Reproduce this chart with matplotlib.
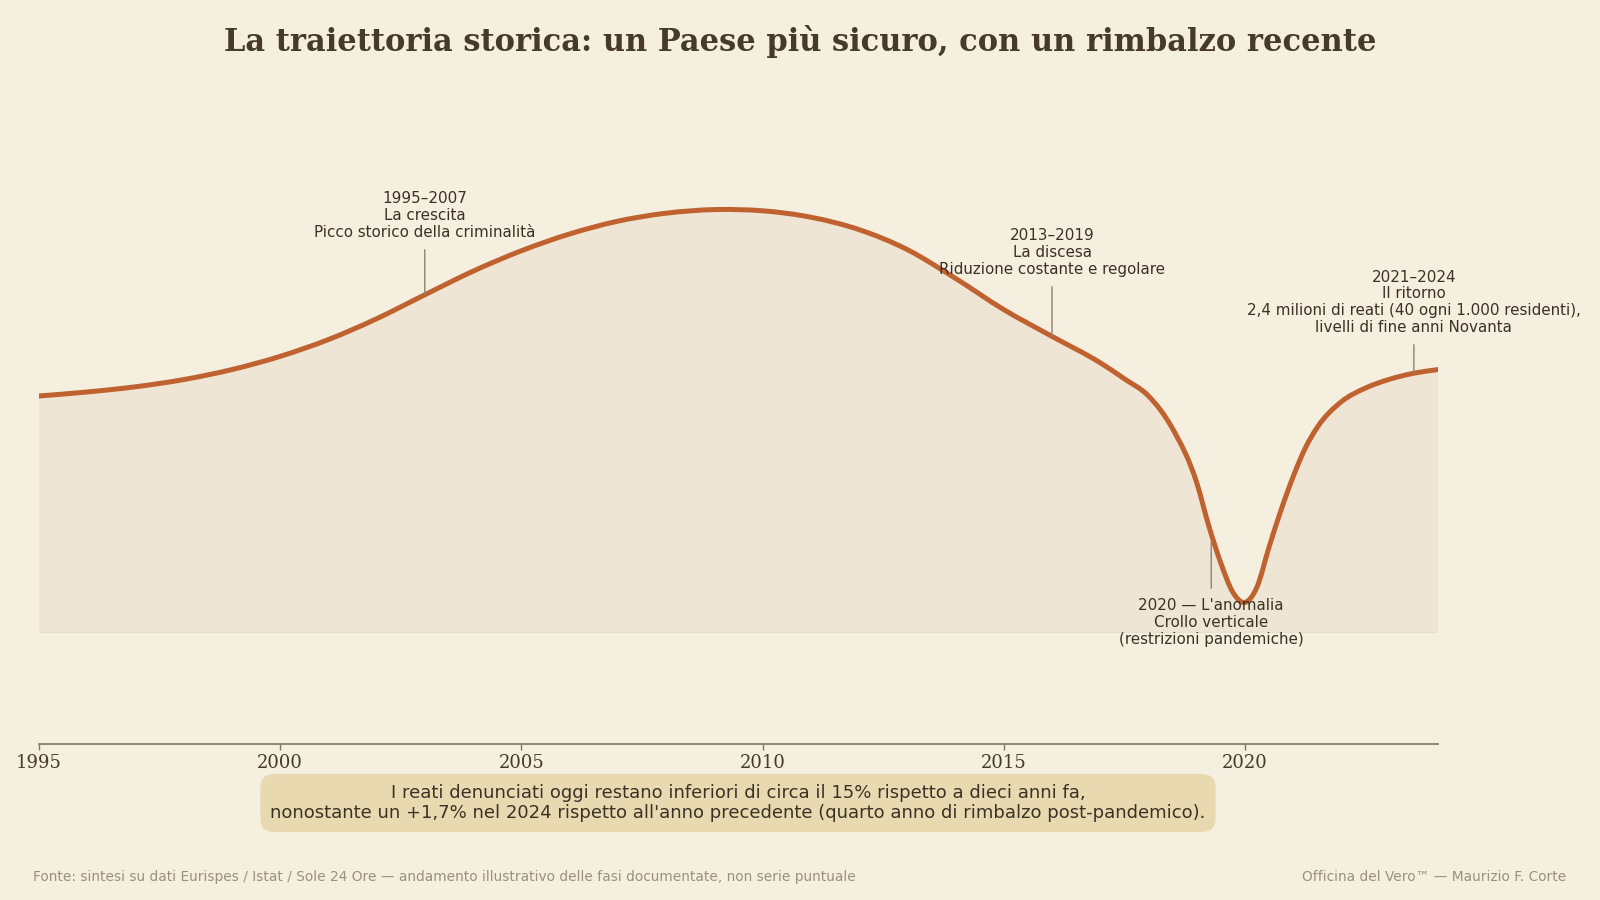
import matplotlib
matplotlib.use("Agg")
import matplotlib.pyplot as plt
import numpy as np
from matplotlib.path import Path
from matplotlib.patches import PathPatch

# ---- data (illustrative index) ----
years = [1995, 1996, 1997, 1998, 1999, 2000, 2001, 2002, 2003, 2004,
         2005, 2006, 2007, 2008, 2009, 2010, 2011, 2012, 2013, 2014,
         2015, 2016, 2017, 2017.5, 2018, 2018.5, 2019, 2019.25, 2019.5,
         2019.75, 2020, 2020.25, 2020.5, 2020.75, 2021, 2021.25, 2021.5,
         2022, 2022.5, 2023, 2023.5, 2024]
index_values = [59.0, 60.0, 61.3, 63.1, 65.6, 68.9, 73.1, 78.3, 84.3, 90.2,
                95.3, 99.5, 102.7, 104.7, 105.6, 105.3, 103.7, 100.6, 95.6, 88.4,
                80.6, 73.9, 67.3, 63.3, 59.0, 50.8, 37.3, 26.5, 17.2,
                9.9, 7.4, 11.3, 21.3, 30.6, 38.9, 46.0, 51.2,
                57.6, 61.0, 63.2, 64.7, 65.6]

tick_years = [1995, 2000, 2005, 2010, 2015, 2020]

ann_x = [2003, 2016, 2023.5, 2019.3]
ann_labels = [
    "1995\u20132007\nLa crescita\nPicco storico della criminalit\u00e0",
    "2013\u20132019\nLa discesa\nRiduzione costante e regolare",
    "2021\u20132024\nIl ritorno\n2,4 milioni di reati (40 ogni 1.000 residenti),\nlivelli di fine anni Novanta",
    "2020 \u2014 L'anomalia\nCrollo verticale\n(restrizioni pandemiche)",
]

title = "La traiettoria storica: un Paese pi\u00f9 sicuro, con un rimbalzo recente"
note = ("I reati denunciati oggi restano inferiori di circa il 15% rispetto a dieci anni fa,\n"
        "nonostante un +1,7% nel 2024 rispetto all'anno precedente (quarto anno di rimbalzo post-pandemico).")
source = "Fonte: sintesi su dati Eurispes / Istat / Sole 24 Ore \u2014 andamento illustrativo delle fasi documentate, non serie puntuale"
credit = "Officina del Vero\u2122 \u2014 Maurizio F. Corte"

# ---- style ----
BG = "#f5efe0"
FILL = "#efe5d4"
LINE = "#c0622f"
DARK = "#463a2c"
TXT = "#3b3226"
GREY = "#9a9080"


def smooth_path_vertices(xs, ys):
    """Cubic Bezier (Hermite) segments passing through every data point."""
    xs = np.asarray(xs, float)
    ys = np.asarray(ys, float)
    h = np.diff(xs)
    d = np.diff(ys) / h
    m = np.empty_like(ys)
    m[0], m[-1] = d[0], d[-1]
    for i in range(1, len(xs) - 1):
        m[i] = (d[i - 1] * h[i] + d[i] * h[i - 1]) / (h[i - 1] + h[i])
    verts = [(xs[0], ys[0])]
    codes = [Path.MOVETO]
    for i in range(len(h)):
        verts += [(xs[i] + h[i] / 3, ys[i] + m[i] * h[i] / 3),
                  (xs[i + 1] - h[i] / 3, ys[i + 1] - m[i + 1] * h[i] / 3),
                  (xs[i + 1], ys[i + 1])]
        codes += [Path.CURVE4] * 3
    return verts, codes


fig = plt.figure(figsize=(16, 9), dpi=100, facecolor=BG)
ax = fig.add_axes([38.8 / 1600, 156 / 900, (1438 - 38.8) / 1600, 664 / 900])
ax.set_facecolor(BG)

x = np.array(years, dtype=float)
y = np.array(index_values, dtype=float)

verts, codes = smooth_path_vertices(x, y)
fill_verts = verts + [(x[-1], 0), (x[0], 0), (x[0], y[0])]
fill_codes = codes + [Path.LINETO, Path.LINETO, Path.CLOSEPOLY]
ax.add_patch(PathPatch(Path(fill_verts, fill_codes), facecolor=FILL, edgecolor="none", zorder=1))
ax.plot([x[0], x[-1]], [0, 0], color="#e9dfcc", lw=0.8, zorder=1)
ax.add_patch(PathPatch(Path(verts, codes), facecolor="none", edgecolor=LINE, lw=3.6,
                       capstyle="round", joinstyle="round", zorder=3))

ax.set_xlim(1995, 2024)
ax.set_ylim(-28, 138)
ax.set_yticks([])
ax.set_xticks(tick_years)
ax.set_xticklabels([str(t) for t in tick_years], fontfamily="DejaVu Serif", fontsize=13, color=DARK)
ax.tick_params(axis="x", length=4, width=1, color="#7d7565", pad=3)
for s in ["top", "right", "left"]:
    ax.spines[s].set_visible(False)
ax.spines["bottom"].set_color("#7d7565")
ax.spines["bottom"].set_linewidth(1.2)

# annotations
text_y = [98.0, 88.75, 74.25, 8.5]
va = ["bottom", "bottom", "bottom", "top"]
for xa, lab, ty, v in zip(ann_x, ann_labels, text_y, va):
    ya = float(np.interp(xa, x, y))
    ax.annotate(lab, xy=(xa, ya), xytext=(xa, ty), textcoords="data",
                ha="center", va=v, fontsize=10.9, color=TXT,
                fontfamily="DejaVu Sans", linespacing=1.15, zorder=4,
                arrowprops=dict(arrowstyle="-", color="#8c8272", lw=1,
                                shrinkA=5, shrinkB=(0 if v == "bottom" else 6)))

fig.text(0.5, 1 - 41 / 900, title, ha="center", va="center", fontsize=22,
         fontweight="bold", fontfamily="DejaVu Serif", color=DARK)

fig.text(738 / 1600, 1 - 803 / 900, note, ha="center", va="center", fontsize=13,
         color=TXT, linespacing=1.15,
         bbox=dict(boxstyle="round,pad=0.55,rounding_size=0.75", fc="#e8d9b0", ec="none"))

fig.text(33 / 1600, 1 - 877 / 900, source, ha="left", va="center", fontsize=9.9, color=GREY)
fig.text(1566 / 1600, 1 - 877 / 900, credit, ha="right", va="center", fontsize=9.9, color=GREY)

fig.savefig("out.png", dpi=100, facecolor=BG)
